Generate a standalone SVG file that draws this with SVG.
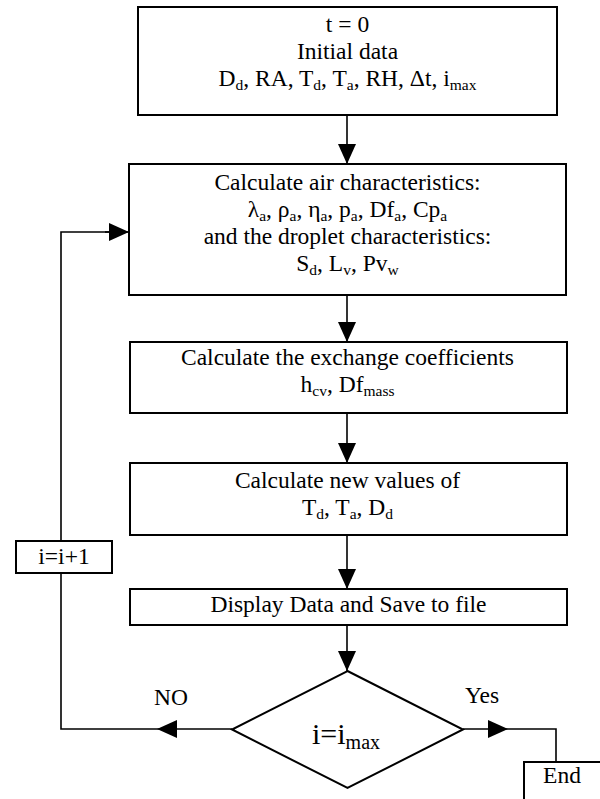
<svg xmlns="http://www.w3.org/2000/svg" width="600" height="799" viewBox="0 0 600 799">
<style>
.box{fill:#fff;stroke:#000;stroke-width:2}
.ln{fill:none;stroke:#000;stroke-width:1.6}
text{font-family:"Liberation Serif","Times New Roman",serif;font-size:23.5px;fill:#000;text-anchor:middle}
.s{font-size:15.5px}
.big{font-size:30px}
.bs{font-size:20px}
</style>
<defs>
<marker id="ah" markerUnits="userSpaceOnUse" viewBox="0 0 20 20" refX="20" refY="10" markerWidth="20" markerHeight="20" orient="auto">
<path d="M0,1 L20,10 L0,19 z" fill="#000"/>
</marker>
</defs>
<rect width="600" height="799" fill="#fff"/>
<g id="connectors">
<line class="ln" x1="347" y1="115" x2="347" y2="164" marker-end="url(#ah)"/>
<line class="ln" x1="347" y1="295" x2="347" y2="342" marker-end="url(#ah)"/>
<line class="ln" x1="347" y1="413" x2="347" y2="463" marker-end="url(#ah)"/>
<line class="ln" x1="347" y1="535" x2="347" y2="589" marker-end="url(#ah)"/>
<line class="ln" x1="347" y1="625" x2="347" y2="671" marker-end="url(#ah)"/>
<line class="ln" x1="232" y1="729" x2="157" y2="729" marker-end="url(#ah)"/>
<polyline class="ln" points="157,729 61,729 61,573"/>
<polyline class="ln" points="61,541 61,232 109,232"/>
<line class="ln" x1="105" y1="232" x2="129" y2="232" marker-end="url(#ah)"/>
<line class="ln" x1="463" y1="729" x2="508" y2="729" marker-end="url(#ah)"/>
<polyline class="ln" points="508,729 556,729 556,762"/>
</g>
<g id="start">
<rect class="box" x="138" y="7" width="419" height="108"/>
<text x="347.5" y="32">t = 0</text>
<text x="347.5" y="59">Initial data</text>
<text x="347.5" y="86">D<tspan class="s" dy="4">d</tspan><tspan dy="-4">, RA, T</tspan><tspan class="s" dy="4">d</tspan><tspan dy="-4">, T</tspan><tspan class="s" dy="4">a</tspan><tspan dy="-4">, RH, Δt, i</tspan><tspan class="s" dy="4">max</tspan></text>
</g>
<g id="air">
<rect class="box" x="129" y="164" width="437" height="131"/>
<text x="347.5" y="190">Calculate air characteristics:</text>
<text x="347.5" y="217">λ<tspan class="s" dy="4">a</tspan><tspan dy="-4">, ρ</tspan><tspan class="s" dy="4">a</tspan><tspan dy="-4">, η</tspan><tspan class="s" dy="4">a</tspan><tspan dy="-4">, p</tspan><tspan class="s" dy="4">a</tspan><tspan dy="-4">, Df</tspan><tspan class="s" dy="4">a</tspan><tspan dy="-4">, Cp</tspan><tspan class="s" dy="4">a</tspan></text>
<text x="347.5" y="244">and the droplet characteristics:</text>
<text x="347.5" y="271">S<tspan class="s" dy="4">d</tspan><tspan dy="-4">, L</tspan><tspan class="s" dy="4">v</tspan><tspan dy="-4">, Pv</tspan><tspan class="s" dy="4">w</tspan></text>
</g>
<g id="exchange">
<rect class="box" x="130" y="342" width="437" height="71"/>
<text x="347.5" y="365">Calculate the exchange coefficients</text>
<text x="347.5" y="392">h<tspan class="s" dy="4">cv</tspan><tspan dy="-4">, Df</tspan><tspan class="s" dy="4">mass</tspan></text>
</g>
<g id="newvalues">
<rect class="box" x="130" y="463" width="437" height="72"/>
<text x="347.5" y="488">Calculate new values of</text>
<text x="347.5" y="515">T<tspan class="s" dy="4">d</tspan><tspan dy="-4">, T</tspan><tspan class="s" dy="4">a</tspan><tspan dy="-4">, D</tspan><tspan class="s" dy="4">d</tspan></text>
</g>
<g id="display">
<rect class="box" x="130" y="589" width="437" height="36"/>
<text x="348.5" y="612">Display Data and Save to file</text>
</g>
<g id="decision">
<polygon class="box" points="347.5,671 463,729.5 347.5,788 232,729.5"/>
<text class="big" x="346" y="744">i=i<tspan class="bs" dy="5">max</tspan></text>
</g>
<g id="increment">
<rect class="box" x="16" y="541" width="96" height="32"/>
<text x="64" y="564">i=i+1</text>
</g>
<g id="end">
<rect class="box" x="524" y="762" width="100" height="60"/>
<text x="562" y="783">End</text>
</g>
<g id="labels">
<text x="171" y="705">NO</text>
<text x="482" y="703">Yes</text>
</g>
</svg>
